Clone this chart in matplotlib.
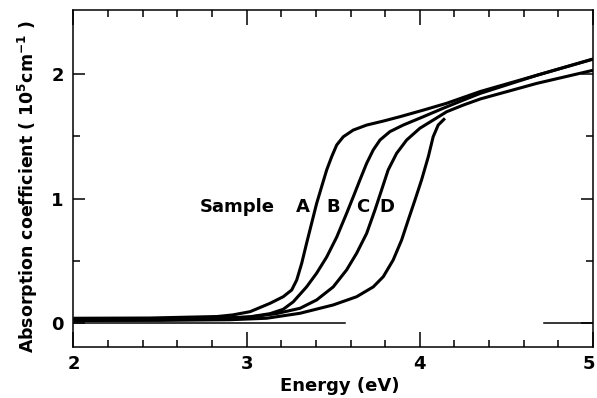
import matplotlib
matplotlib.use("Agg")
import matplotlib.pyplot as plt
from matplotlib.ticker import MultipleLocator, FixedLocator
from matplotlib.transforms import ScaledTranslation

plt.rcParams['font.family'] = ['DejaVu Sans']
plt.rcParams['font.weight'] = 'bold'
plt.rcParams['mathtext.fontset'] = 'dejavusans'
plt.rcParams['mathtext.default'] = 'bf'

# ---- data ----
energy_A = [2.0, 2.44, 2.83, 2.92, 3.02, 3.135, 3.211, 3.26, 3.289, 3.318, 3.346, 3.375,
            3.404, 3.433, 3.462, 3.491, 3.52, 3.558, 3.616, 3.693, 3.789, 3.885, 4.02,
            4.155, 4.35, 4.676, 5.0]
alpha_A = [0.038, 0.04, 0.052, 0.065, 0.091, 0.158, 0.211, 0.265, 0.345, 0.48, 0.64, 0.80,
           0.96, 1.095, 1.229, 1.336, 1.43, 1.496, 1.55, 1.59, 1.622, 1.657, 1.71,
           1.765, 1.86, 1.99, 2.12]

energy_B = [2.0, 2.5, 2.9, 3.02, 3.135, 3.211, 3.269, 3.346, 3.404, 3.462, 3.52, 3.577,
            3.616, 3.654, 3.693, 3.731, 3.77, 3.827, 3.904, 4.02, 4.135, 4.25, 4.35,
            4.676, 5.0]
alpha_B = [0.032, 0.033, 0.038, 0.05, 0.075, 0.11, 0.17, 0.29, 0.40, 0.53, 0.69, 0.88,
           1.015, 1.149, 1.283, 1.39, 1.47, 1.537, 1.59, 1.657, 1.725, 1.79, 1.845,
           1.99, 2.12]

energy_C = [2.0, 2.5, 3.02, 3.17, 3.308, 3.404, 3.5, 3.577, 3.635, 3.693, 3.741, 3.779,
            3.817, 3.866, 3.924, 4.0, 4.077, 4.155, 4.25, 4.35, 4.676, 5.0]
alpha_C = [0.026, 0.027, 0.048, 0.075, 0.118, 0.185, 0.29, 0.426, 0.56, 0.72, 0.908, 1.068,
           1.229, 1.363, 1.47, 1.564, 1.63, 1.697, 1.75, 1.80, 1.925, 2.03]

energy_D = [2.0, 2.5, 2.9, 3.115, 3.308, 3.5, 3.635, 3.731, 3.789, 3.846, 3.895, 3.933,
            3.972, 4.01, 4.049, 4.077, 4.106, 4.145]
alpha_D = [0.02, 0.021, 0.026, 0.038, 0.078, 0.145, 0.211, 0.29, 0.372, 0.506, 0.667, 0.827,
           0.988, 1.149, 1.336, 1.496, 1.59, 1.644]

baseline_segments = [(2.0, 3.57), (4.715, 5.0)]

sample_names = ['A', 'B', 'C', 'D']
x_major = [2, 3, 4, 5]
y_major = [0, 1, 2]
y_minor = [0.5, 1.5]

# ---- figure ----
fig = plt.figure(figsize=(5.97, 3.98), dpi=100)
ax = fig.add_axes([0.1231, 0.1281, 0.8702, 0.8467])

for e, a in [(energy_A, alpha_A), (energy_B, alpha_B), (energy_C, alpha_C), (energy_D, alpha_D)]:
    ax.plot(e, a, color='black', lw=2.2, solid_joinstyle='round', solid_capstyle='butt')

for x0, x1 in baseline_segments:
    ax.plot([x0, x1], [0, 0], color='black', lw=1.1)

ax.set_xlim(2, 5)
ax.set_ylim(-0.193, 2.514)

ax.xaxis.set_major_locator(FixedLocator(x_major))
ax.xaxis.set_minor_locator(MultipleLocator(0.2))
ax.yaxis.set_major_locator(FixedLocator(y_major))
ax.yaxis.set_minor_locator(FixedLocator(y_minor))
ax.set_xticklabels([str(v) for v in x_major])
ax.set_yticklabels([str(v) for v in y_major])

ax.tick_params(which='both', direction='in', top=True, right=True, width=1.1, colors='black')
ax.tick_params(axis='x', which='major', length=10.8, pad=5.5, labelsize=13)
ax.tick_params(axis='x', which='minor', length=5)
ax.tick_params(axis='y', which='major', length=8.6, pad=7, labelsize=13)
ax.tick_params(axis='y', which='minor', length=5)
for lab in ax.get_xticklabels() + ax.get_yticklabels():
    lab.set_fontweight('bold')

# keep the last x tick label inside the figure, as in the reference
last = ax.get_xticklabels()[-1]
last.set_transform(last.get_transform() + ScaledTranslation(-4.5 / 100, 0, fig.dpi_scale_trans))

for s in ax.spines.values():
    s.set_linewidth(1.1)

ax.set_xlabel('Energy (eV)', fontsize=13, fontweight='bold', va='center')
ax.xaxis.set_label_coords(0.512, -0.1157)
ax.set_ylabel('Absorption coefficient ( 10$^{5}$cm$^{-1}$ )', fontsize=12.5,
              fontweight='bold', va='center')
ax.yaxis.set_label_coords(-0.0876, 0.476)

label_y = 0.934
ax.text(2.944, label_y, 'Sample', fontsize=13, fontweight='bold', ha='center', va='center')
for name, xpos in zip(sample_names, [3.322, 3.498, 3.669, 3.807]):
    ax.text(xpos, label_y, name, fontsize=13, fontweight='bold', ha='center', va='center')

fig.savefig('out.png', dpi=100)
